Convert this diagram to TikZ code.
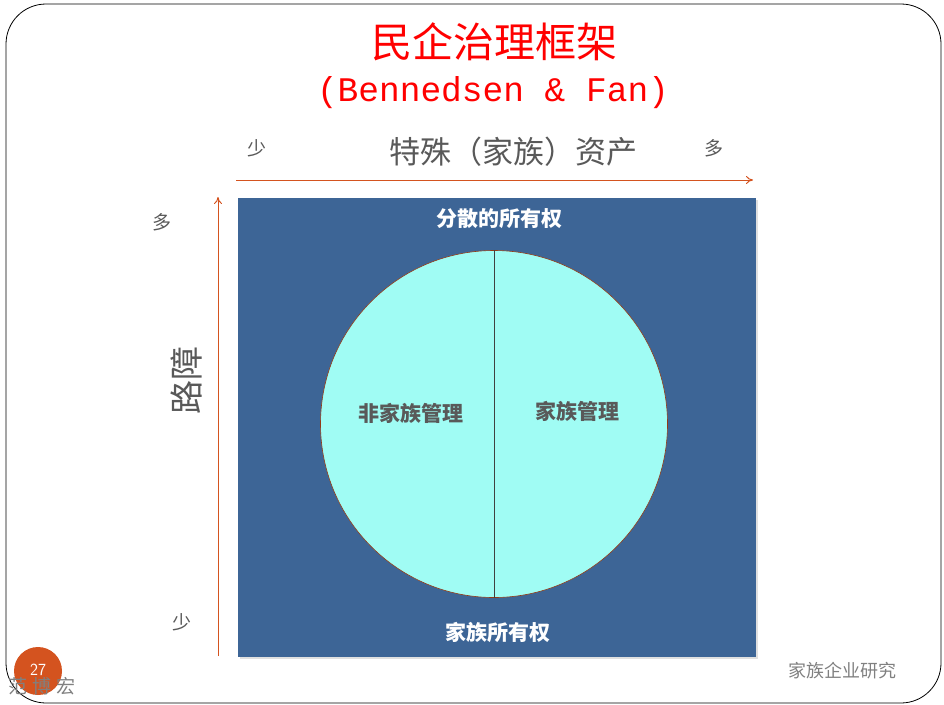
\documentclass[tikz,border=0pt]{standalone}
\usepackage{fontspec}
\usetikzlibrary{arrows.meta}
\newfontfamily\cjk{Noto Sans CJK SC}
\newfontfamily\monofnt{Liberation Mono}
\definecolor{axisred}{HTML}{D4531F}
\definecolor{boxblue}{HTML}{3D6596}
\definecolor{discfill}{HTML}{A0FCF4}
\definecolor{txtgray}{HTML}{595959}
\tikzset{
  axis/.style={draw=axisred,line width=1pt,-{To[length=7pt,width=8pt]}},
  lab/.style={text=txtgray,font=\cjk\fontsize{19}{19}\selectfont},
  inner/.style={text=white,font=\cjk\bfseries\fontsize{21}{21}\selectfont},
  half/.style={text=txtgray,font=\cjk\bfseries\fontsize{21}{21}\selectfont}
}
\begin{document}
\begin{tikzpicture}[x=1pt,y=-1pt]
  \useasboundingbox (0,0) rectangle (944,704);
  \draw[line width=0.8pt,rounded corners=40pt] (6,4) rectangle (941,703);

  % title
  \node[text=red,font=\cjk\fontsize{41}{41}\selectfont] (title) at (494,42) {民企治理框架};
  \node[text=red,font=\monofnt\fontsize{34.5}{34.5}\selectfont] (cite) at (493,93) {(Bennedsen \& Fan)};

  % horizontal axis
  \node[lab] (xlow) at (257,148) {少};
  \node[text=txtgray,font=\cjk\fontsize{31}{31}\selectfont] (xname) at (513,152) {特殊（家族）资产};
  \node[lab] (xhigh) at (714,148) {多};
  \coordinate (xs) at (236,180);
  \coordinate (xe) at (753,180);
  \draw[axis] (xs) -- (xe);

  % vertical axis
  \node[lab] (yhigh) at (162,222) {多};
  \node[lab] (ylow) at (182,622) {少};
  \node[text=txtgray,font=\cjk\fontsize{34}{34}\selectfont,rotate=90] (yname) at (186,380) {路障};
  \coordinate (ys) at (218,656);
  \coordinate (ye) at (218,197);
  \draw[axis] (ys) -- (ye);

  % field
  \fill[black!12] (240,200) rectangle (758,659);
  \fill[boxblue] (238,198) rectangle (756,657);
  \node[inner] (disp) at (499,219) {分散的所有权};
  \node[inner] (fown) at (498,632) {家族所有权};

  \node[circle,draw=axisred!70!black,line width=0.6pt,fill=discfill,minimum size=347pt,inner sep=0pt] (disc) at (494,424) {};
  \draw[line width=1pt,black!75] (disc.north) -- (disc.south);
  \node[half] (nonfam) at (411,413) {非家族管理};
  \node[half] (fam) at (577,411) {家族管理};

  % footer
  \node[circle,fill=axisred,minimum size=48pt,inner sep=0pt] (badge) at (38,671) {};
  \node[text=gray,font=\cjk\fontsize{19}{19}\selectfont,anchor=west,inner sep=0pt] (author) at (8,686) {范\hspace{5pt}博\hspace{5pt}宏};
  \node[text=white,font=\sffamily\fontsize{17}{17}\selectfont,inner sep=0pt] (page) at (38,670) {27};
  \node[text=gray,font=\cjk\fontsize{18}{18}\selectfont] (course) at (842,671) {家族企业研究};
\end{tikzpicture}
\end{document}
